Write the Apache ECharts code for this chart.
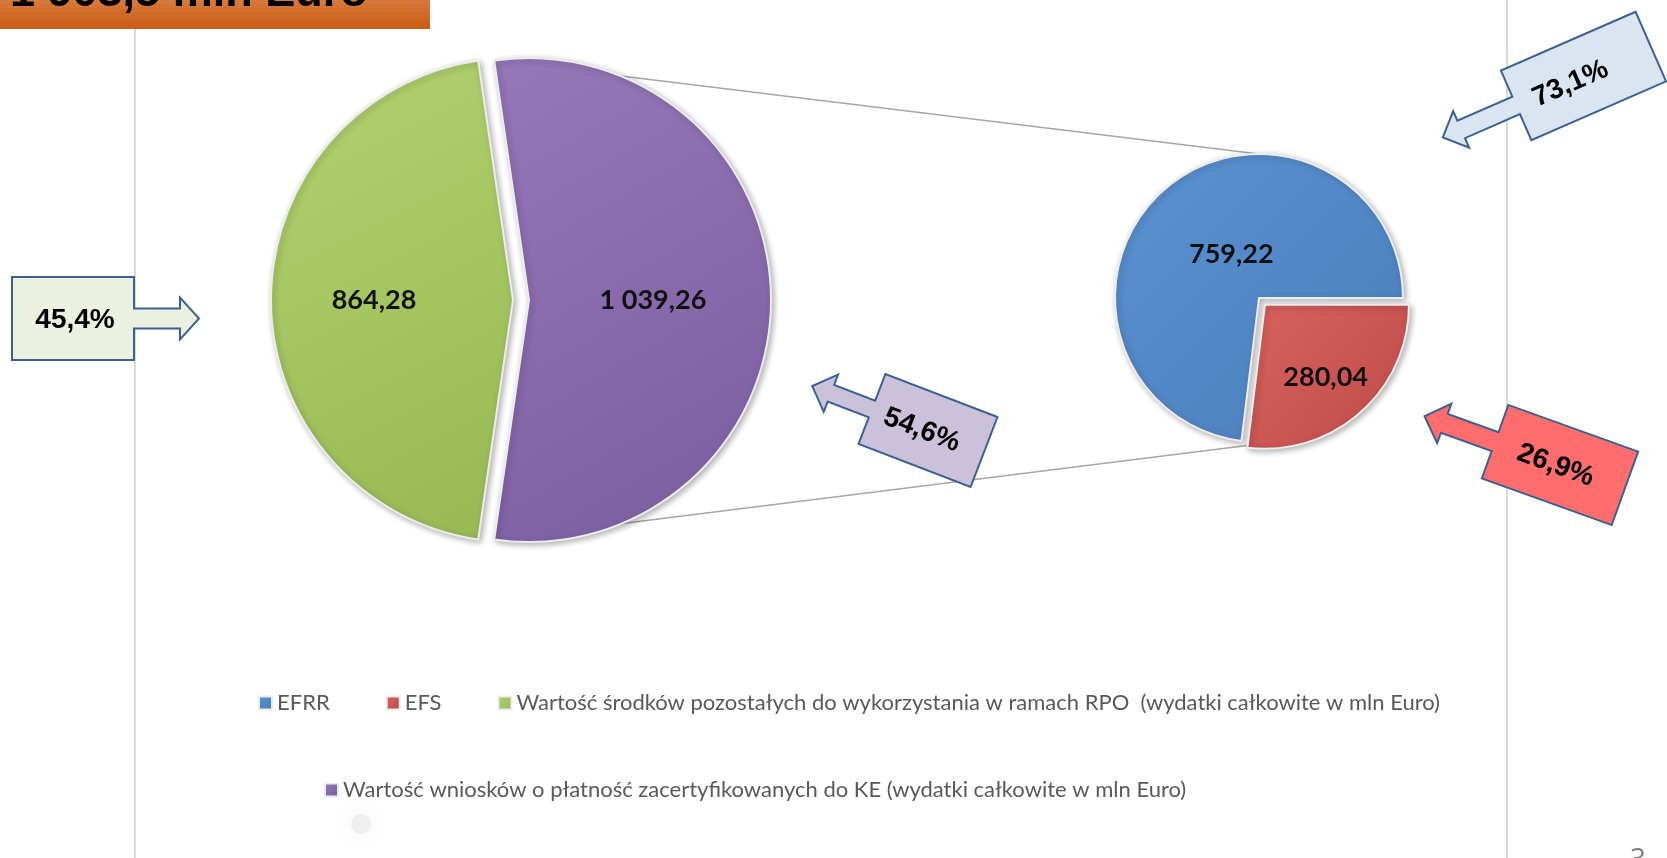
<!DOCTYPE html>
<html>
<head>
<meta charset="utf-8">
<title>RPO</title>
<script src="https://cdn.jsdelivr.net/npm/echarts@6.0.0/dist/echarts.min.js"></script>
<style>
  html, body { margin: 0; padding: 0; background: #fff; }
  #chart { width: 1667px; height: 858px; }
</style>
</head>
<body>
<div id="chart"></div>
<script>
// dane
const titleText = "1 903,5 mln Euro"
const mainNames = [
  "Wartość środków pozostałych do wykorzystania w ramach RPO  (wydatki całkowite w mln Euro)",
  "Wartość wniosków o płatność zacertyfikowanych do KE (wydatki całkowite w mln Euro)"
]
const mainValues = [864.28, 1039.26]
const fundNames = ["EFRR", "EFS"]
const fundValues = [759.22, 280.04]
const pageNo = "3"

const mainTotal = mainValues[0] + mainValues[1]
const fundTotal = fundValues[0] + fundValues[1]

// format polski: "1 039,26"
function fmt(v) {
  let s = v.toFixed(2).split(".")
  s[0] = s[0].replace(/\B(?=(\d{3})+(?!\d))/g, " ")
  return s[0] + "," + s[1]
}
function pct(v, total) {
  return (v / total * 100).toFixed(1).replace(".", ",") + "%"
}

// uklad
const bigCenter = [513, 300], bigR = 242, bigOff = 16
const smallCenter = [1259, 298], smallR = 144, smallOff = 9
const purpleHalf = mainValues[1] / mainTotal * 180

// przesuniecia etykiet (jak w Excelu)
const bigLabelShift = [[0, 0], [-15, 0]]
const smallLabelShift = [[11, 16], [22, 12]]

let myChart = echarts.init(document.getElementById("chart"))

function grad(c1, c2) {
  return new echarts.graphic.LinearGradient(0, 0, 1, 1, [
    { offset: 0, color: c1 },
    { offset: 1, color: c2 }
  ])
}
const colGreen = grad("#b2d270", "#98b853")
const colPurple = grad("#9677b9", "#7b5d9f")
const colBlue = grad("#5b92d3", "#4a7dbb")
const colRed = grad("#d8625f", "#be4a47")

// strzalka z prostokatem (callout)
function callout(cx, cy, rotDeg, w, h, dir, arrowLen, headLen, headHalf, shaftHalf, fill, text, tdx) {
  let a = w / 2, b = h / 2
  let x1 = a + arrowLen - headLen, x2 = a + arrowLen
  let pts = [[-a, -b], [a, -b], [a, -shaftHalf], [x1, -shaftHalf], [x1, -headHalf], [x2, 0],
    [x1, headHalf], [x1, shaftHalf], [a, shaftHalf], [a, b], [-a, b]]
  pts = pts.map(p => [p[0] * dir, p[1]])
  return {
    type: "group",
    x: cx,
    y: cy,
    rotation: -rotDeg * Math.PI / 180,
    z: 100,
    children: [
      {
        type: "polygon",
        shape: { points: pts },
        style: { fill: fill, stroke: "#3b6093", lineWidth: 2 }
      },
      {
        type: "text",
        x: tdx,
        y: 2,
        style: {
          text: text,
          font: 'bold 28px "Liberation Sans", Arial',
          fill: "#000",
          align: "center",
          verticalAlign: "middle"
        }
      }
    ]
  }
}

const ptop = [bigCenter[0] + bigOff + bigR * Math.cos(purpleHalf * Math.PI / 180),
  bigCenter[1] - bigR * Math.sin(purpleHalf * Math.PI / 180)]
const pbot = [ptop[0], 2 * bigCenter[1] - ptop[1]]

const legendText = { fontFamily: "Lato", fontSize: 22, color: "#595959" }

const pieItemStyle = {
  borderColor: "#ececec",
  borderWidth: 2,
  shadowBlur: 6,
  shadowColor: "rgba(0,0,0,0.3)",
  shadowOffsetX: 2,
  shadowOffsetY: 2
}
const pieLabel = {
  position: "inside",
  formatter: p => fmt(p.value),
  fontFamily: "Lato",
  fontWeight: "bold",
  fontSize: 27,
  color: "#111"
}

myChart.setOption({
  animation: false,
  legend: [
    {
      data: [fundNames[0], fundNames[1], mainNames[0]],
      left: 258,
      top: 692,
      padding: 0,
      itemGap: 56,
      itemWidth: 13,
      itemHeight: 13,
      icon: "rect",
      selectedMode: false,
      textStyle: legendText
    },
    {
      data: [mainNames[1]],
      left: 324,
      top: 779,
      padding: 0,
      itemWidth: 13,
      itemHeight: 13,
      icon: "rect",
      selectedMode: false,
      textStyle: legendText
    }
  ],
  series: [
    {
      name: "main",
      type: "pie",
      center: bigCenter,
      radius: bigR,
      startAngle: purpleHalf,
      clockwise: true,
      selectedMode: "multiple",
      selectedOffset: bigOff,
      avoidLabelOverlap: false,
      silent: true,
      itemStyle: pieItemStyle,
      label: pieLabel,
      labelLayout: p => ({ dx: bigLabelShift[p.dataIndex][0], dy: bigLabelShift[p.dataIndex][1] }),
      data: [
        { name: mainNames[1], value: mainValues[1], selected: true, itemStyle: { color: colPurple } },
        { name: mainNames[0], value: mainValues[0], itemStyle: { color: colGreen } }
      ]
    },
    {
      name: "fund",
      type: "pie",
      center: smallCenter,
      radius: smallR,
      startAngle: 0,
      clockwise: true,
      selectedMode: "multiple",
      selectedOffset: smallOff,
      avoidLabelOverlap: false,
      silent: true,
      itemStyle: pieItemStyle,
      label: pieLabel,
      labelLayout: p => ({ dx: smallLabelShift[p.dataIndex][0], dy: smallLabelShift[p.dataIndex][1] }),
      data: [
        { name: fundNames[1], value: fundValues[1], selected: true, itemStyle: { color: colRed } },
        { name: fundNames[0], value: fundValues[0], itemStyle: { color: colBlue } }
      ]
    }
  ],
  graphic: [
    // linie boczne slajdu
    { type: "line", shape: { x1: 135, y1: 29, x2: 135, y2: 858 }, style: { stroke: "#d9d9d9", lineWidth: 2 } },
    { type: "line", shape: { x1: 1507, y1: 0, x2: 1507, y2: 858 }, style: { stroke: "#d9d9d9", lineWidth: 2 } },
    // pasek tytulu
    {
      type: "rect",
      shape: { x: 0, y: 0, width: 430, height: 29 },
      style: {
        fill: new echarts.graphic.LinearGradient(0, 0, 0, 1, [
          { offset: 0, color: "#d77a3e" },
          { offset: 1, color: "#cb5b10" }
        ])
      }
    },
    {
      type: "text",
      x: 10,
      y: -6,
      style: {
        text: titleText,
        font: 'bold 45px "Liberation Sans", Arial',
        fill: "#000",
        align: "left",
        verticalAlign: "middle"
      }
    },
    // linie laczace
    { type: "line", shape: { x1: ptop[0], y1: ptop[1], x2: smallCenter[0], y2: smallCenter[1] - smallR }, style: { stroke: "#a6a6a6", lineWidth: 1.5 } },
    { type: "line", shape: { x1: pbot[0], y1: pbot[1], x2: smallCenter[0], y2: smallCenter[1] + smallR + 2 }, style: { stroke: "#a6a6a6", lineWidth: 1.5 } },
    // callouty
    callout(73, 318.5, 0, 122, 83, 1, 65, 19, 21, 10, "#ebf1de", pct(mainValues[0], mainTotal), 2),
    callout(928, 430.5, 21, 120, 75, -1, 64, 20, 20, 9, "#ccc1da", pct(mainValues[1], mainTotal), -6),
    callout(1583.5, 76, -23.6, 147, 76, -1, 80, 20, 20, 9.5, "#dbe5f1", pct(fundValues[0], fundTotal), -15),
    callout(1560, 465, 19.8, 138, 78, -1, 75, 21, 21, 10, "#ff6d6d", pct(fundValues[1], fundTotal), -4),
    // cien pod legenda
    {
      type: "circle",
      shape: { cx: 361, cy: 824, r: 10 },
      style: { fill: "rgba(215,215,215,0.3)", shadowBlur: 18, shadowColor: "rgba(170,170,170,0.55)" }
    },
    // numer strony
    {
      type: "text",
      x: 1638,
      y: 846,
      style: { text: pageNo, font: '28px "Open Sans"', fill: "#7f7f7f", align: "center", verticalAlign: "top" }
    }
  ]
})
</script>
</body>
</html>
